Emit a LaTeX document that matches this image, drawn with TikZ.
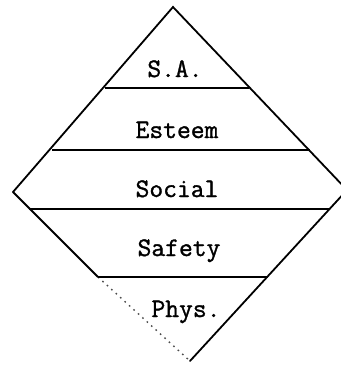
\documentclass[tikz,border=0pt]{standalone}
\usepackage{fontspec}
\setmonofont[FakeBold=1.2]{Latin Modern Mono}
\usepackage{tikz}
\usetikzlibrary{positioning, calc}
\tikzset{
  % Outline of the diamond
  edge/.style={line width=0.9pt, color=black, line cap=round},
  % Faint lower-left side
  faint/.style={line width=0.7pt, color=black!70, dash pattern=on 0.8pt off 2.2pt},
  % Level divider
  divider/.style={line width=1pt, color=black},
  % Level label
  level/.style={font=\fontsize{13.4pt}{15pt}\ttfamily, anchor=base, inner sep=0pt},
}
\begin{document}
\begin{tikzpicture}[x=0.5pt, y=-0.5pt]
  \useasboundingbox (0,0) rectangle (341,365);
  % corners
  \coordinate (top)    at (173,7);
  \coordinate (left)   at (13,192);
  \coordinate (right)  at (347,190);
  \coordinate (bottom) at (190,361);
  % divider ends
  \coordinate (d1w) at (105,88);  \coordinate (d1e) at (249,88);
  \coordinate (d2w) at (52,150);  \coordinate (d2e) at (310,150);
  \coordinate (d3w) at (29,209);  \coordinate (d3e) at (330,209);
  \coordinate (d4w) at (98,277);  \coordinate (d4e) at (268,277);
  % outline
  \draw[edge] (left) -- (top) -- (right) -- (bottom);
  \draw[edge] (left) -- (d4w);
  \draw[faint] (d4w) -- (bottom);
  % dividers
  \draw[divider] (d1w) -- (d1e);
  \draw[divider] (d2w) -- (d2e);
  \draw[divider] (d3w) -- (d3e);
  \draw[divider] (d4w) -- (d4e);
  % labels
  \node[level] (sa)     at (175,77)  {S.A.};
  \node[level] (esteem) at (177,138) {Esteem};
  \node[level] (social) at (177,197) {Social};
  \node[level] (safety) at (179,256) {Safety};
  \node[level] (phys)   at (186,317) {Phys.};
\end{tikzpicture}
\end{document}
